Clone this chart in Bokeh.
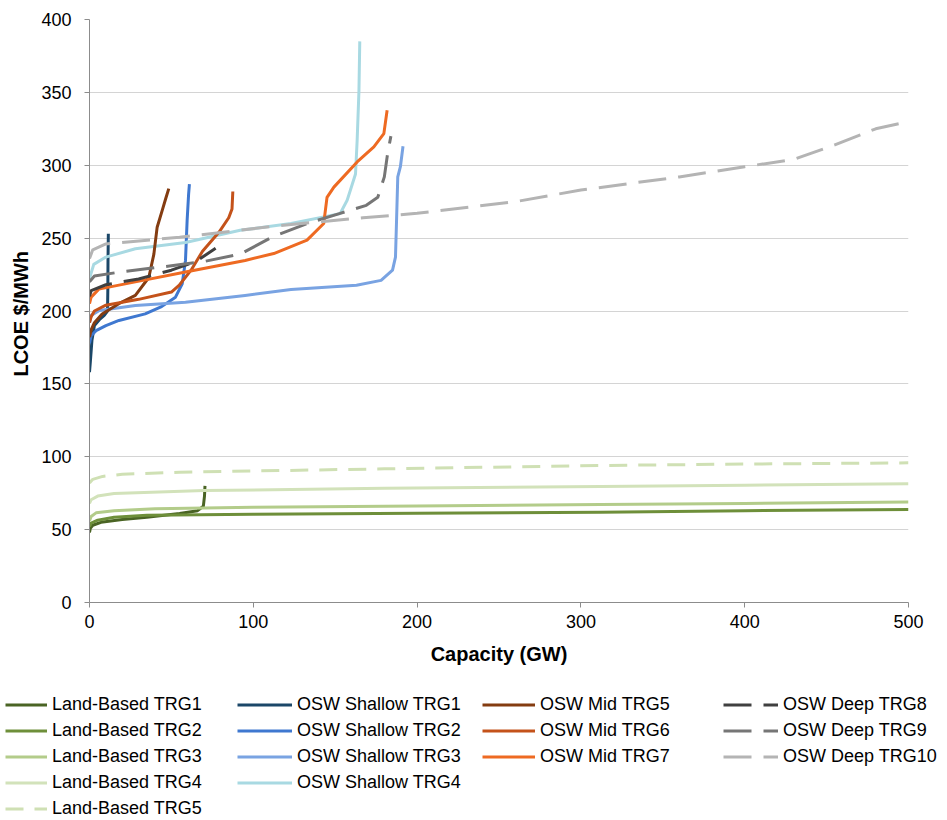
from bokeh.plotting import figure
from bokeh.models import Legend, LegendItem, FixedTicker
from bokeh.layouts import column
from bokeh.embed import file_html
from bokeh.resources import INLINE

FONT = "Liberation Sans"

# ---------------- data (capacity GW, LCOE $/MWh) ----------------
lb1_cap = [0, 0.5, 2, 7, 20, 35, 55, 66, 69.5, 70.2, 70.5]
lb1_lcoe = [48, 51, 53, 55, 57, 58.5, 61, 63, 66, 73, 80]
lb2_cap = [0, 1, 5, 15, 35, 100, 200, 312, 400, 500]
lb2_lcoe = [52, 54.5, 56.5, 58.5, 59.8, 60.5, 61.2, 62, 63, 63.8]
lb3_cap = [0, 1, 4, 15, 40, 100, 200, 312, 400, 500]
lb3_lcoe = [56, 59, 61.5, 63, 64.3, 65.3, 66.2, 67.2, 68, 69]
lb4_cap = [0, 1, 5, 15, 70, 180, 312, 400, 500]
lb4_lcoe = [68, 70.5, 73, 74.8, 76.8, 78.4, 79.6, 80.5, 81.4]
lb5_cap = [0, 2, 8, 20, 55, 180, 312, 400, 500]
lb5_lcoe = [82, 84.5, 86.5, 88, 89.4, 91.7, 94, 95, 95.8]

sh1_cap = [0, 0.5, 1.5, 3, 6, 9, 11, 11.2, 11.3, 11.5]
sh1_lcoe = [158, 165, 180, 190, 194, 197, 200, 215, 235, 253]
sh2_cap = [0, 1, 4, 10, 18, 34, 44, 52.5, 56.6, 58.6, 59.6, 60.5, 61]
sh2_lcoe = [178, 183, 186.5, 190, 193.5, 198, 203, 209.5, 218.7, 234.7, 262, 280, 287]
sh3_cap = [0, 1, 6, 28, 58.6, 95, 123, 163, 178, 185, 186.8, 187.4, 188.2, 189.8, 191.4]
sh3_lcoe = [192, 197, 200.4, 203.8, 206, 210.7, 214.7, 217.7, 221, 228, 237, 260, 292, 299, 313]
sh4_cap = [0, 1, 2.6, 10, 28, 58.6, 92, 123, 153, 157.3, 159.3, 162.4, 163.4, 164.5, 165]
sh4_lcoe = [222, 226, 232, 237, 242.7, 247, 255.4, 260, 266.8, 276, 283, 294, 317, 351, 385]

md5_cap = [0, 1, 3, 7.7, 17.9, 28, 36.2, 39.3, 41.3, 44.4, 46.5, 48.4]
md5_lcoe = [182, 187, 192, 198, 205, 210.7, 223, 239, 257.5, 269, 277, 284]
md6_cap = [0, 1, 3, 10, 30, 50, 55, 62, 69, 79, 85, 87, 87.5]
md6_lcoe = [192, 196, 200, 204, 208, 213, 218, 228, 241, 254, 264, 270, 282]
md7_cap = [0, 1, 5.7, 28, 58.6, 95, 112.5, 132.8, 143, 145, 149.2, 163.4, 173.6, 179.7, 181.7]
md7_lcoe = [205, 209.5, 215, 220, 226.7, 234.7, 239.4, 248.6, 260, 278, 285, 302.3, 312.6, 321.7, 337.7]

dp8_cap = [0, 1, 10, 30, 50, 65, 77]
dp8_lcoe = [210, 214, 218, 222, 228, 234, 243]
dp9_cap = [0, 3, 20, 50, 70, 92, 112, 133, 153, 169, 176, 180, 182, 184]
dp9_lcoe = [220, 224, 227, 231, 234, 239, 251, 260, 267, 272.5, 278, 292, 308, 320]
dp10_cap = [0, 2, 10, 55, 117, 167, 200, 260, 300, 360, 400, 430, 455, 480, 500]
dp10_lcoe = [236, 242, 246, 250.6, 258.7, 264, 267, 275, 283, 292, 299, 304, 314, 325, 330]

x_ticks = [0, 100, 200, 300, 400, 500]
y_ticks = [0, 50, 100, 150, 200, 250, 300, 350, 400]

series = [
    ("Land-Based TRG1", lb1_cap, lb1_lcoe, "#4A6424", None),
    ("Land-Based TRG2", lb2_cap, lb2_lcoe, "#6E8F3A", None),
    ("Land-Based TRG3", lb3_cap, lb3_lcoe, "#B3CC8A", None),
    ("Land-Based TRG4", lb4_cap, lb4_lcoe, "#D2E2BA", None),
    ("Land-Based TRG5", lb5_cap, lb5_lcoe, "#CFE0B4", "18 11"),
    ("OSW Shallow TRG1", sh1_cap, sh1_lcoe, "#1B4768", None),
    ("OSW Shallow TRG2", sh2_cap, sh2_lcoe, "#3F78D0", None),
    ("OSW Shallow TRG3", sh3_cap, sh3_lcoe, "#79A3E2", None),
    ("OSW Shallow TRG4", sh4_cap, sh4_lcoe, "#A8D9E2", None),
    ("OSW Mid TRG5", md5_cap, md5_lcoe, "#843C11", None),
    ("OSW Mid TRG6", md6_cap, md6_lcoe, "#C4521A", None),
    ("OSW Mid TRG7", md7_cap, md7_lcoe, "#EE6A22", None),
    ("OSW Deep TRG8", dp8_cap, dp8_lcoe, "#404040", "28 12"),
    ("OSW Deep TRG9", dp9_cap, dp9_lcoe, "#767676", "28 12"),
    ("OSW Deep TRG10", dp10_cap, dp10_lcoe, "#B4B4B4", "28 12"),
]

W = 945
MAIN_H = 668
LEG_H = 151

# ---------------- main chart ----------------
p = figure(width=W, height=MAIN_H, x_range=(0, 500), y_range=(0, 400),
           output_backend="svg", toolbar_location=None,
           min_border_left=89, min_border_right=37, min_border_top=19, min_border_bottom=66)
p.outline_line_color = None
p.background_fill_color = "white"
p.border_fill_color = "white"
p.xgrid.grid_line_color = None
p.ygrid.grid_line_color = "#D4D4D4"
p.ygrid.grid_line_width = 1

p.xaxis.ticker = FixedTicker(ticks=x_ticks)
p.yaxis.ticker = FixedTicker(ticks=y_ticks)
for ax in (p.xaxis[0], p.yaxis[0]):
    ax.axis_line_color = "#8C8C8C"
    ax.major_tick_line_color = "#8C8C8C"
    ax.minor_tick_line_color = None
    ax.major_tick_out = 5
    ax.major_tick_in = 0
    ax.major_label_text_font = FONT
    ax.major_label_text_font_size = "18px"
    ax.major_label_text_color = "black"
    ax.axis_label_text_font = FONT
    ax.axis_label_text_font_size = "20px"
    ax.axis_label_text_font_style = "bold"
    ax.axis_label_text_color = "black"

p.xaxis.axis_label = "Capacity (GW)"
p.xaxis.major_label_standoff = 7
p.xaxis.axis_label_standoff = 12
p.yaxis.axis_label = "LCOE  $/MWh"
p.yaxis.major_label_standoff = 13
p.yaxis.axis_label_standoff = 6

for label, xs, ys, color, dash in series:
    kw = dict(line_color=color, line_width=3, line_join="round")
    if dash:
        kw["line_dash"] = dash
    p.line(xs, ys, **kw)

# ---------------- legend panel (4 columns) ----------------
lf = figure(width=W, height=LEG_H, x_range=(0, 1), y_range=(0, 1),
            output_backend="svg", toolbar_location=None,
            x_axis_type=None, y_axis_type=None, min_border=0,
            min_border_left=0, min_border_right=0, min_border_top=0, min_border_bottom=0)
lf.frame_align = False
lf.outline_line_color = None
lf.xgrid.grid_line_color = None
lf.ygrid.grid_line_color = None

ROW_H = 21
GAP = 5
TOP = 26  # legend top, px from top of legend panel
groups = [(0, 5, 5, 42), (5, 9, 237, 55), (9, 12, 482, 53), (12, 15, 723, 55)]
for a, b, x0, gw in groups:
    items = []
    for i in range(a, b):
        label, xs, ys, color, dash = series[i]
        kw = dict(line_color=color, line_width=3)
        if dash:
            kw["line_dash"] = dash
        # proxy renderer for the legend swatch (same series, outside this panel's view)
        r = lf.line(xs, ys, **kw)
        items.append(LegendItem(label=label, renderers=[r]))
    n = b - a
    h = n * ROW_H + (n - 1) * GAP
    y0 = LEG_H - TOP - h
    leg = Legend(items=items, location=(x0, y0), glyph_width=gw, glyph_height=ROW_H,
                 label_height=ROW_H, spacing=GAP, padding=0, margin=0, label_standoff=5,
                 border_line_color=None, background_fill_alpha=0,
                 label_text_font=FONT, label_text_font_size="18px",
                 label_text_color="black")
    lf.add_layout(leg, "center")

# keep proxy lines outside the legend panel's visible range
lf.x_range.start, lf.x_range.end = 1000, 1001
lf.y_range.start, lf.y_range.end = 1000, 1001

layout = column(p, lf, spacing=0)
open("out.html", "w").write(file_html(layout, INLINE))
